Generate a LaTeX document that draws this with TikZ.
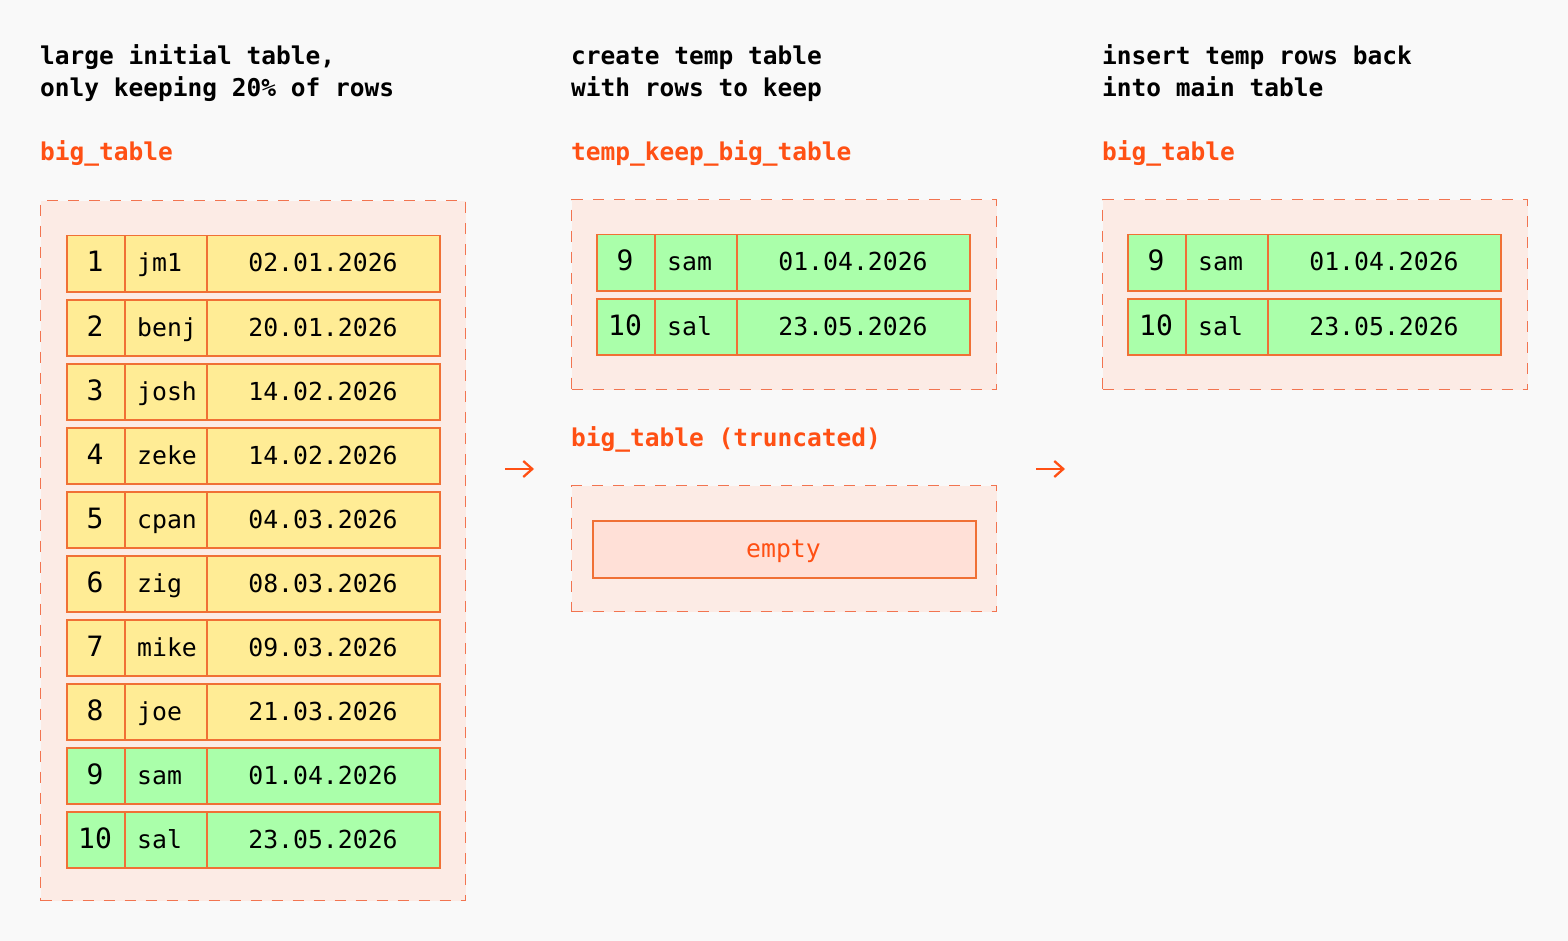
\documentclass[tikz,border=0pt]{standalone}
\usepackage{fontspec}
\setmonofont{DejaVu Sans Mono}
\usetikzlibrary{arrows.meta}
\definecolor{bgc}{HTML}{F9F9F9}
\definecolor{outerfill}{HTML}{FCEBE5}
\definecolor{dashc}{HTML}{F27450}
\definecolor{rowyellow}{HTML}{FFEC95}
\definecolor{rowgreen}{HTML}{AAFFAA}
\definecolor{cellline}{HTML}{F07035}
\definecolor{emptyfill}{HTML}{FFE0D7}
\definecolor{orangetxt}{HTML}{FF5014}
\newcommand\myhd{\ttfamily\bfseries\fontsize{24.5}{30}\selectfont}
\newcommand\mycell{\ttfamily\fontsize{24.8}{30}\selectfont}
\newcommand\mynum{\ttfamily\fontsize{28}{32}\selectfont}
\tikzset{
  outerbox/.style={draw=dashc, fill=outerfill, line width=1.4pt, dash pattern=on 11pt off 10pt, anchor=north west, inner sep=0pt, minimum width=425pt},
  cell/.style={draw=cellline, line width=1.5pt, anchor=north west, inner sep=0pt, minimum height=56pt},
  yel/.style={fill=rowyellow},
  grn/.style={fill=rowgreen},
  hdtext/.style={font=\myhd, anchor=base west, inner sep=0pt, text=black},
  lbltext/.style={font=\myhd, anchor=base west, inner sep=0pt, text=orangetxt},
  celltext/.style={font=\mycell, inner sep=0pt, text=black},
  numtext/.style={font=\mynum, inner sep=0pt, text=black, anchor=base},
  flow/.style={draw=orangetxt, line width=2.3pt, -{Straight Barb[length=9pt,width=16pt]}},
}
% #1 id, #2 x, #3 y, #4 fill, #5 number, #6 name, #7 date
\newcommand\trow[7]{%
  \node[cell,#4,minimum width=58pt] (#1a) at (#2,#3) {};
  \node[cell,#4,minimum width=82pt] (#1b) at (#2+58,#3) {};
  \node[cell,#4,minimum width=233pt] (#1c) at (#2+140,#3) {};
  \node[numtext] (#1n) at (#2+29,#3+37) {#5};
  \node[celltext,anchor=base west] (#1m) at (#2+71,#3+37) {#6};
  \node[celltext,anchor=base] (#1d) at (#2+257,#3+37) {#7};
}
\begin{document}
\begin{tikzpicture}[x=1pt,y=-1pt]
\fill[bgc] (0,0) rectangle (1568,941);
\useasboundingbox (0,0) rectangle (1568,941);

% headers
\node[hdtext] (h1a) at (40,65) {large initial table,};
\node[hdtext] (h1b) at (40,97) {only keeping 20\% of rows};
\node[hdtext] (h2a) at (571,65) {create temp table};
\node[hdtext] (h2b) at (571,97) {with rows to keep};
\node[hdtext] (h3a) at (1102,65) {insert temp rows back};
\node[hdtext] (h3b) at (1102,97) {into main table};

% labels
\node[lbltext] (l1) at (40,161) {big\_table};
\node[lbltext] (l2) at (571,161) {temp\_keep\_big\_table};
\node[lbltext] (l3) at (1102,161) {big\_table};
\node[lbltext] (l4) at (571,446) {big\_table (truncated)};

% outer boxes
\node[outerbox, minimum height=700pt] (boxL) at (40,200) {};
\node[outerbox, minimum height=190pt] (boxM) at (571,199) {};
\node[outerbox, minimum height=126pt] (boxE) at (571,485) {};
\node[outerbox, minimum height=190pt] (boxR) at (1102,199) {};

% left table
\trow{r1}{66}{235}{yel}{1}{jm1}{02.01.2026}
\trow{r2}{66}{299}{yel}{2}{benj}{20.01.2026}
\trow{r3}{66}{363}{yel}{3}{josh}{14.02.2026}
\trow{r4}{66}{427}{yel}{4}{zeke}{14.02.2026}
\trow{r5}{66}{491}{yel}{5}{cpan}{04.03.2026}
\trow{r6}{66}{555}{yel}{6}{zig}{08.03.2026}
\trow{r7}{66}{619}{yel}{7}{mike}{09.03.2026}
\trow{r8}{66}{683}{yel}{8}{joe}{21.03.2026}
\trow{r9}{66}{747}{grn}{9}{sam}{01.04.2026}
\trow{r10}{66}{811}{grn}{10}{sal}{23.05.2026}

% middle temp table
\trow{m9}{596}{234}{grn}{9}{sam}{01.04.2026}
\trow{m10}{596}{298}{grn}{10}{sal}{23.05.2026}

% empty table
\node[draw=cellline, line width=1.5pt, fill=emptyfill, anchor=north west, inner sep=0pt, minimum width=383pt, minimum height=57pt] (empty) at (592,520) {};
\node[celltext, text=orangetxt, anchor=base] (emptytxt) at (783.5,557) {empty};

% right table
\trow{k9}{1127}{234}{grn}{9}{sam}{01.04.2026}
\trow{k10}{1127}{298}{grn}{10}{sal}{23.05.2026}

% arrows
\coordinate (a1s) at (505,469);
\coordinate (a1e) at (534,469);
\coordinate (a2s) at (1036,469);
\coordinate (a2e) at (1065,469);
\draw[flow] (a1s) -- (a1e);
\draw[flow] (a2s) -- (a2e);
\end{tikzpicture}
\end{document}
